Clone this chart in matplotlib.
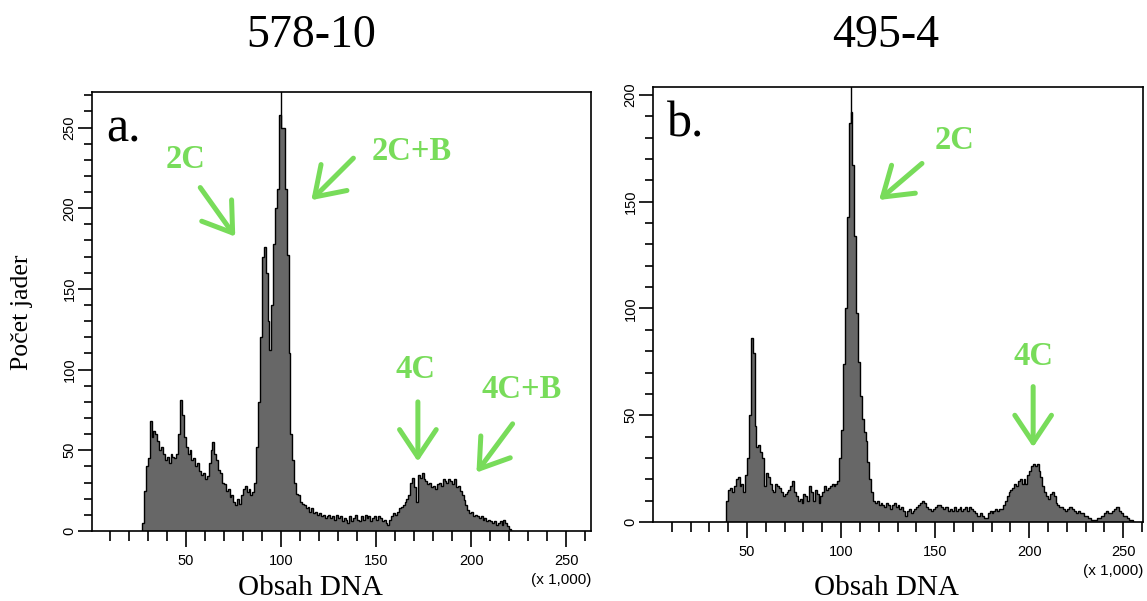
import numpy as np
import matplotlib
matplotlib.use('Agg')
import matplotlib.pyplot as plt

# histogram 578-10 (bins of 1 unit, x in thousands), first bin starts at 27
start_a = 27
counts_a = [5, 25, 40, 45, 68, 58, 62, 60, 56, 50, 52, 48, 44, 46, 42, 48, 46, 45, 48, 60,
            81, 72, 58, 52, 48, 50, 44, 45, 40, 42, 37, 35, 36, 32, 34, 42, 50, 55, 48, 44,
            38, 36, 30, 29, 25, 26, 21, 22, 18, 16, 20, 17, 22, 26, 28, 24, 26, 22, 24, 30,
            52, 80, 120, 170, 176, 160, 130, 112, 140, 178, 200, 212, 258, 250, 250, 212, 171, 110, 60, 44,
            30, 23, 22, 18, 17, 16, 14, 15, 12, 14, 11, 12, 10, 11, 9, 10, 8, 9, 10, 8,
            9, 7, 10, 8, 9, 6, 8, 7, 5, 9, 6, 8, 10, 7, 6, 9, 7, 10, 8, 9,
            6, 8, 9, 7, 9, 8, 6, 7, 5, 4, 7, 9, 11, 10, 12, 14, 15, 16, 18, 20,
            22, 30, 33, 27, 18, 35, 33, 36, 32, 31, 29, 30, 27, 28, 26, 29, 30, 28, 32, 31,
            30, 32, 31, 29, 32, 27, 28, 25, 22, 19, 16, 13, 11, 12, 9, 10, 9, 8, 9, 7,
            8, 6, 7, 6, 5, 6, 4, 5, 6, 4, 7, 5, 3, 1, 0]

# histogram 495-4, first bin starts at 38
start_b = 38
counts_b = [0, 10, 15, 16, 14, 17, 20, 21, 17, 18, 14, 22, 30, 50, 86, 79, 45, 35, 36, 33,
            30, 17, 23, 21, 18, 15, 14, 18, 17, 16, 14, 12, 13, 14, 15, 17, 19, 14, 12, 10,
            11, 9, 13, 12, 10, 17, 14, 10, 15, 13, 9, 12, 14, 17, 15, 16, 17, 18, 17, 18,
            19, 30, 43, 74, 100, 143, 187, 192, 167, 134, 98, 75, 59, 48, 42, 38, 28, 20, 14, 10,
            9, 10, 8, 9, 8, 7, 9, 8, 6, 8, 9, 7, 8, 6, 7, 5, 3, 5, 6, 4,
            5, 6, 7, 8, 9, 10, 9, 7, 6, 6, 5, 6, 7, 8, 8, 7, 6, 7, 7, 5,
            6, 5, 7, 5, 6, 7, 5, 6, 7, 5, 7, 6, 5, 4, 3, 3, 4, 3, 2, 2,
            4, 5, 4, 5, 6, 5, 6, 6, 8, 10, 12, 14, 15, 16, 18, 17, 19, 20, 18, 20,
            18, 22, 24, 26, 27, 26, 27, 24, 21, 17, 14, 12, 11, 13, 14, 12, 9, 8, 7, 7,
            6, 5, 6, 7, 7, 6, 5, 4, 5, 4, 4, 3, 3, 2, 2, 1, 1, 1, 2, 2,
            3, 3, 4, 5, 4, 4, 5, 6, 7, 7, 5, 4, 3, 3, 2, 1, 1, 0]

cursor_a = 100
cursor_b = 105

# annotations: (text, text position, arrow tail, arrow head) in data units
labels_a = [('2C', (50, 230), (57.6, 212.8), (76, 182.4)),
            ('2C+B', (168.6, 235), (138.1, 231), (116, 205)),
            ('4C', (171, 100), (172, 80), (172, 43)),
            ('4C+B', (226.5, 87.5), (221.8, 66.4), (202.8, 36.2))]
labels_b = [('2C', (160.2, 178.6), (143, 167.9), (120.2, 150.8)),
            ('4C', (202.1, 77.4), (202.1, 63.4), (202.1, 35))]

W, H = 1147, 601
green = '#78dc5a'
serif = 'Liberation Serif'

fig = plt.figure(figsize=(W / 100, H / 100), dpi=100)


def box(l, t, r, b):
    return [l / W, 1 - b / H, (r - l) / W, (b - t) / H]


def draw_panel(ax, start, counts, cursor, xlim, ylim, ymajor, letter, labels):
    edges = np.arange(start, start + len(counts) + 1)
    ax.axvline(cursor, color='black', lw=1, zorder=1)
    ax.stairs(counts, edges, fill=True, color='#676767', zorder=2)
    ax.stairs(counts, edges, color='black', lw=1, zorder=3)
    ax.set_xlim(*xlim)
    ax.set_ylim(*ylim)
    ax.set_xticks(np.arange(50, 251, 50))
    ax.set_xticks(np.arange(10, xlim[1], 10), minor=True)
    ax.set_yticks(np.arange(0, ylim[1], ymajor))
    ax.set_yticks(np.arange(0, ylim[1], 10), minor=True)
    ax.tick_params(axis='x', which='major', length=11.5, width=1.2, labelsize=10.5, pad=5)
    ax.tick_params(axis='x', which='minor', length=7, width=1.2)
    ax.tick_params(axis='y', which='major', length=10, width=1.2, labelsize=10.5, pad=1)
    ax.tick_params(axis='y', which='minor', length=5.5, width=1.2)
    for lab in ax.get_yticklabels():
        lab.set_rotation(90)
        lab.set_va('center')
    for lab in ax.get_xticklabels() + ax.get_yticklabels():
        lab.set_family('Liberation Sans')
    for s in ax.spines.values():
        s.set_linewidth(1.2)
    ax.text(1.0, -0.112, '(x 1,000)', transform=ax.transAxes, ha='right', va='center',
            fontsize=11, family='Liberation Sans')
    ax.text(0.028, 0.915, letter, transform=ax.transAxes, ha='left', va='center',
            fontsize=36, family=serif)
    for txt, pos, tail, head in labels:
        ax.text(pos[0], pos[1], txt, ha='center', va='center', color=green,
                fontsize=23.5, fontweight='bold', family=serif)
        ax.annotate('', xy=head, xytext=tail,
                    arrowprops=dict(arrowstyle='->,head_length=0.9,head_width=0.6',
                                    color=green, lw=3.6, mutation_scale=22,
                                    shrinkA=0, shrinkB=0))


ax1 = fig.add_axes(box(92, 92, 591, 531))
draw_panel(ax1, start_a, counts_a, cursor_a, (0.7, 263), (0, 272), 50, 'a.', labels_a)

ax2 = fig.add_axes(box(653, 87, 1143, 522))
draw_panel(ax2, start_b, counts_b, cursor_b, (0, 260.5), (0, 203.7), 50, 'b.', labels_b)

fig.text(311 / W, 1 - 36 / H, '578-10', ha='center', va='center', fontsize=33, family=serif)
fig.text(886 / W, 1 - 36 / H, '495-4', ha='center', va='center', fontsize=33, family=serif)
fig.text(310 / W, 1 - 588 / H, 'Obsah DNA', ha='center', va='center', fontsize=21, family=serif)
fig.text(886 / W, 1 - 588 / H, 'Obsah DNA', ha='center', va='center', fontsize=21, family=serif)
fig.text(22 / W, 1 - 312 / H, 'Počet jader', ha='center', va='center', rotation=90,
         fontsize=18.5, family=serif)

fig.savefig('out.png', dpi=100)
